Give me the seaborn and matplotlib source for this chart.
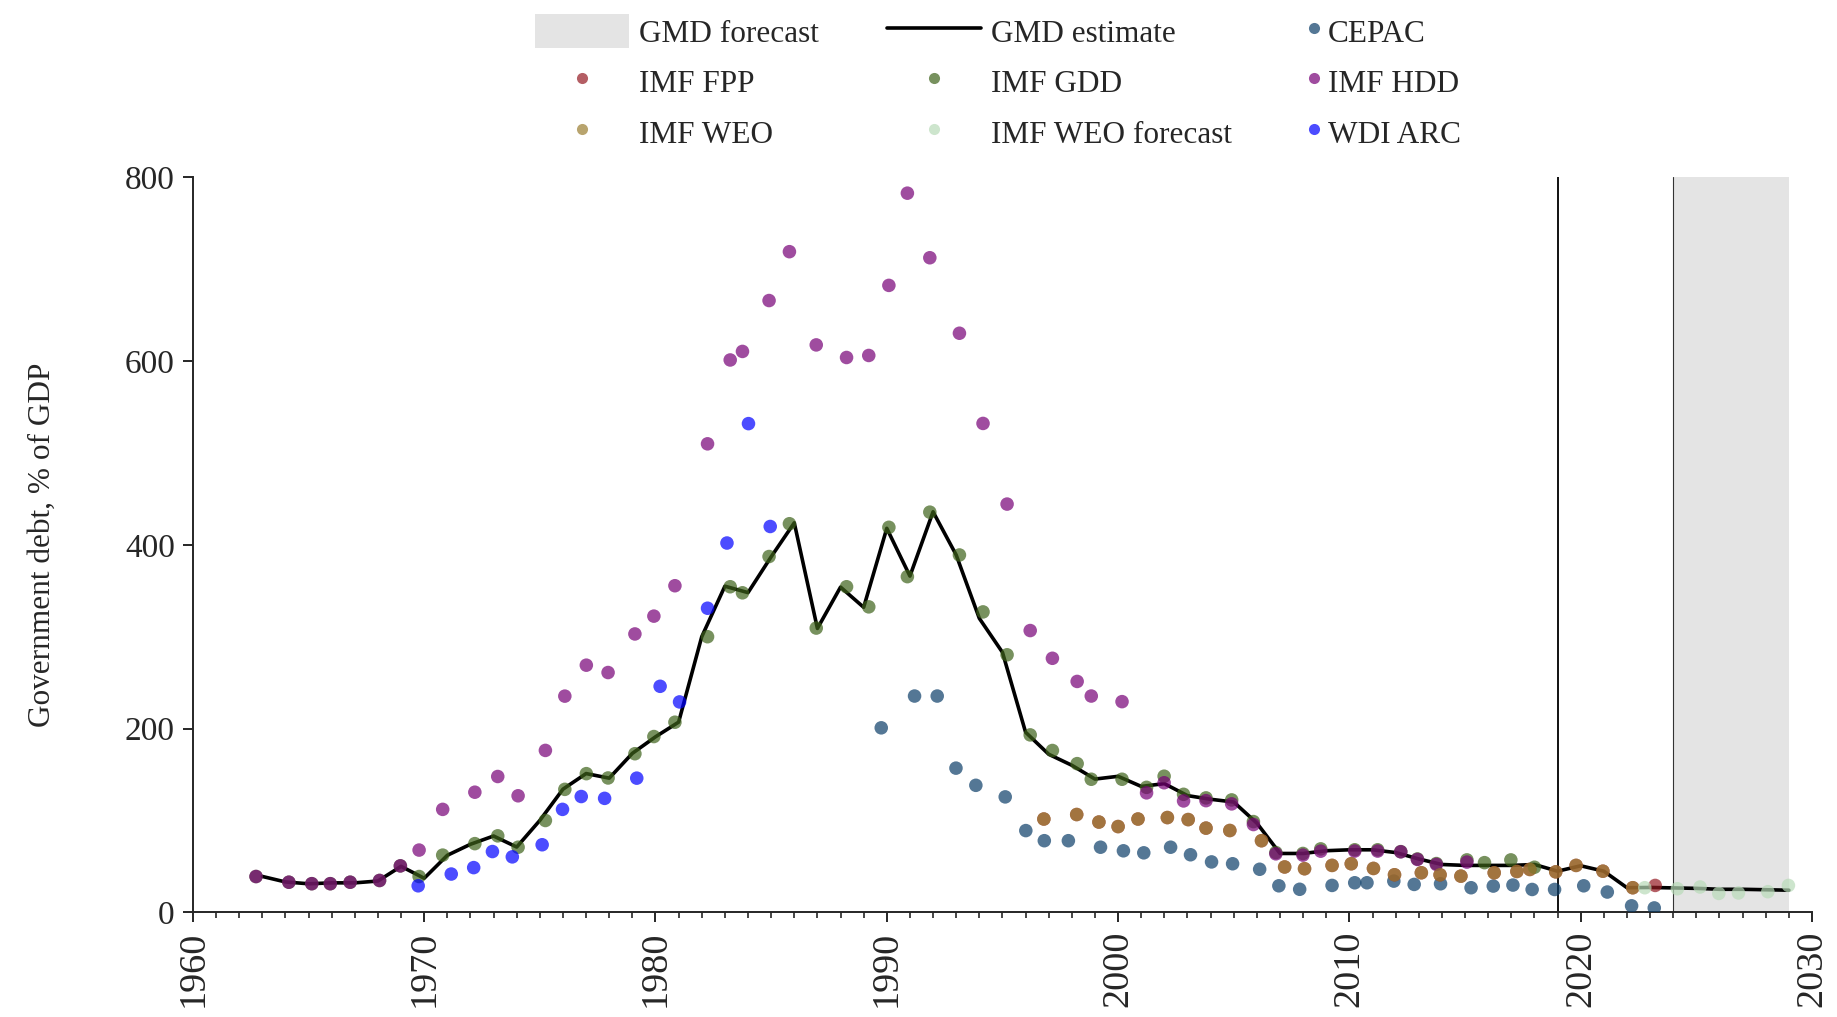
import numpy as np
import pandas as pd
import matplotlib
matplotlib.use("Agg")
import matplotlib.pyplot as plt
from matplotlib.lines import Line2D
from matplotlib.patches import Patch
from matplotlib.ticker import MultipleLocator
import seaborn as sns

# --- data ---

# GMD estimate (black line), one value per year
gmd_years = list(range(1963, 2030))
gmd_values = [39, 33, 31, 32, 32, 34, 50, 37, 62, 74,
              83, 71, 100, 134, 151, 146, 173, 191, 207, 300,
              355, 348, 387, 424, 309, 354, 332, 418, 366, 436,
              389, 320, 283, 196, 172, 160, 145, 148, 137, 140,
              127, 123, 120, 97, 64, 64, 67, 68, 68, 65,
              58, 52, 51, 51, 51, 52, 44.7, 50.6, 44.7, 26.7,
              27, 26.5, 26, 25, 25, 24.5, 24]

# source dots sit slightly off the whole years in the reference
gdd_years = [1962.73, 1964.15, 1965.14, 1965.94, 1966.80, 1968.07, 1968.97,
             1969.78, 1970.80, 1972.19, 1973.18, 1974.06, 1975.24, 1976.08,
             1977.01, 1977.95, 1979.11, 1979.93, 1980.84, 1982.25, 1983.23,
             1983.76, 1984.91, 1985.79, 1986.95, 1988.26, 1989.22, 1990.09,
             1990.89, 1991.86, 1993.14, 1994.16, 1995.20, 1996.20, 1997.16,
             1998.23, 1998.84, 2000.17, 2001.23, 2001.99, 2002.83, 2003.80,
             2004.91, 2005.85, 2006.82, 2007.99, 2008.76, 2010.23, 2011.22,
             2012.22, 2012.94, 2013.76, 2015.08, 2015.84, 2016.98, 2018.00]
gdd_values = [38.9, 32.7, 31.1, 31.1, 32.7, 34.6, 50.5,
              38.9, 62.2, 74.7, 83.2, 70.8, 99.9, 133.8,
              150.9, 146.2, 172.6, 191.3, 206.9, 300, 354.4,
              347.8, 387.3, 423, 309.4, 354.4, 332.5, 419.1,
              365.4, 435.6, 389, 327, 280.3, 193.1, 176.1,
              161.8, 144.8, 144.8, 136, 148.1, 128.4, 124.5,
              122.3, 98.7, 65, 64, 69, 68, 68,
              66, 58, 53, 57, 54, 57, 49]

hdd_years = gdd_years[:53]
hdd_values = [38.9, 32.7, 31.1, 31.1, 32.7, 34.6, 50.5,
              67.7, 112, 130.7, 147.8, 126.8, 176.2, 235.3,
              269, 261, 303, 322.4, 355.5, 510, 601.3,
              610.6, 666, 719.2, 617.7, 604, 606.2, 682.5,
              782.9, 712.6, 630.4, 532.2, 444.4, 306.7, 276.5,
              251.3, 235.4, 229.3, 130, 141, 121.2, 121.5,
              118, 95.5, 63.6, 62.2, 66.5, 66.6, 66.6,
              65.8, 57.5, 52.1, 54.6]

cepac_years = [1989.76, 1991.20, 1992.18, 1992.99, 1993.85, 1995.12, 1996.01,
               1996.81, 1997.85, 1999.24, 2000.23, 2001.11, 2002.27, 2003.13,
               2004.04, 2004.95, 2006.12, 2006.95, 2007.85, 2009.25, 2010.23,
               2010.76, 2011.92, 2012.80, 2013.94, 2015.26, 2016.22, 2017.07,
               2017.90, 2018.87, 2020.13, 2021.15, 2022.20, 2023.18]
cepac_values = [200.8, 235.4, 235.4, 156.9, 138.2, 125.6, 88.9,
                77.9, 77.9, 70.8, 66.9, 64.7, 70.8, 62.6,
                54.8, 52.8, 46.8, 28.8, 25, 29.2, 32.1,
                32.1, 33.9, 30.3, 31.0, 26.7, 28.5, 29.6,
                24.8, 24.8, 28.8, 22, 7, 4.7]

weo_years = [1996.79, 1998.21, 1999.17, 2000.00, 2000.86, 2002.13, 2003.03,
             2003.80, 2004.83, 2006.20, 2007.20, 2008.06, 2009.25, 2010.08,
             2011.04, 2011.95, 2013.11, 2013.92, 2014.82, 2016.26, 2017.24,
             2017.80, 2018.92, 2019.80, 2020.96, 2022.25]
weo_values = [101.5, 106.4, 98.2, 93.3, 101.5, 103.1, 100.9,
              91.6, 89, 77.9, 49.3, 47.4, 51, 52.8,
              47.7, 40.8, 43, 40.8, 39.3, 43, 44.4,
              46.6, 44, 51, 44.7, 26.7]

# FPP mostly hides under the WEO dots, one point shows in 2023
fpp_years = weo_years + [2023.22]
fpp_values = weo_values + [29.2]

weo_fc_years = [2022.77, 2024.18, 2025.16, 2025.97, 2026.82, 2028.09, 2028.98]
weo_fc_values = [26.7, 25.6, 27.5, 20.5, 21, 22.4, 29.2]

wdi_years = [1969.74, 1971.17, 1972.14, 1972.95, 1973.81, 1975.10, 1975.98,
             1976.79, 1977.80, 1979.19, 1980.20, 1981.04, 1982.25, 1983.09,
             1984.02, 1984.96]
wdi_values = [28.8, 41.6, 48.6, 66.1, 60.3, 73.5, 112,
              126, 124, 146, 246, 229, 331, 402,
              532, 420]

sources = ['CEPAC', 'IMF FPP', 'IMF GDD', 'IMF HDD', 'IMF WEO',
           'IMF WEO forecast', 'WDI ARC']
palette = {'CEPAC': '#0c3e69', 'IMF FPP': '#941a22', 'IMF GDD': '#3e621a',
           'IMF HDD': '#770077', 'IMF WEO': '#9b7e30',
           'IMF WEO forecast': '#b8dbb8', 'WDI ARC': '#0000ff'}

FORECAST_START, FORECAST_END = 2024, 2029
MARK_YEAR = 2019

# --- long table for seaborn (drawing order = source order) ---
series = [(cepac_years, cepac_values), (fpp_years, fpp_values),
          (gdd_years, gdd_values), (hdd_years, hdd_values),
          (weo_years, weo_values), (weo_fc_years, weo_fc_values),
          (wdi_years, wdi_values)]
frames = []
for name, (yrs, vals) in zip(sources, series):
    frames.append(pd.DataFrame({'year': yrs, 'value': vals, 'source': name}))
df_dots = pd.concat(frames, ignore_index=True)
df_gmd = pd.DataFrame({'year': gmd_years, 'value': gmd_values})

# --- plot ---
sns.set_theme(style='ticks')
plt.rcParams['font.family'] = ['Liberation Serif', 'DejaVu Serif']
plt.rcParams['axes.linewidth'] = 1.4

fig = plt.figure(figsize=(18.37, 10.17), dpi=100)
ax = fig.add_axes([0.105, 0.103, 0.8814, 0.7225])

ax.axvspan(FORECAST_START, FORECAST_END, color='#e4e4e4', lw=0, zorder=0)
ax.axvline(FORECAST_START, color='#333333', lw=0.8, zorder=1)
ax.axvline(MARK_YEAR, color='#111111', lw=1.4, zorder=1)

sns.lineplot(data=df_gmd, x='year', y='value', color='black', lw=2.6,
             ax=ax, zorder=2)
sns.scatterplot(data=df_dots, x='year', y='value', hue='source',
                hue_order=sources, palette=palette, s=95, alpha=0.7,
                linewidth=0, legend=False, ax=ax, zorder=3)

ax.set_xlim(1960, 2030)
ax.set_ylim(0, 800)
ax.xaxis.set_major_locator(MultipleLocator(10))
ax.xaxis.set_minor_locator(MultipleLocator(1))
ax.yaxis.set_major_locator(MultipleLocator(200))
ax.tick_params(axis='x', which='major', length=7, width=1.4, pad=6,
               labelsize=27.5, labelrotation=90)
ax.tick_params(axis='x', which='minor', length=4, width=1.2)
ax.tick_params(axis='y', which='major', length=7, width=1.4, pad=6,
               labelsize=24)
sns.despine(ax=ax)

ax.set_xlabel('')
ax.set_ylabel('Government debt, % of GDP', fontsize=22.5)
ax.yaxis.set_label_coords(-0.084, 0.5)

# --- legend: three columns, built as three legends ---
def dot(name):
    return Line2D([], [], marker='o', linestyle='none', markersize=8,
                  markerfacecolor=palette[name], markeredgewidth=0,
                  alpha=0.7, label=name)

col1 = [Patch(facecolor='#e4e4e4', edgecolor='none', label='GMD forecast'),
        dot('IMF FPP'), dot('IMF WEO')]
col2 = [Line2D([], [], color='black', lw=2.6, label='GMD estimate'),
        dot('IMF GDD'), dot('IMF WEO forecast')]
col3 = [dot('CEPAC'), dot('IMF HDD'), dot('WDI ARC')]

common = dict(loc='upper left', frameon=False, fontsize=22.5, borderpad=0,
              borderaxespad=0, handlelength=3.0, handleheight=1.28,
              labelspacing=0.52)
fig.legend(handles=col1, bbox_to_anchor=(0.2912, 0.986),
           handletextpad=0.32, **common)
fig.legend(handles=col2, bbox_to_anchor=(0.4829, 0.986),
           handletextpad=0.32, **common)
fig.legend(handles=col3, bbox_to_anchor=(0.6897, 0.986),
           handletextpad=-1.06, **common)

fig.savefig('out.png', dpi=100)
